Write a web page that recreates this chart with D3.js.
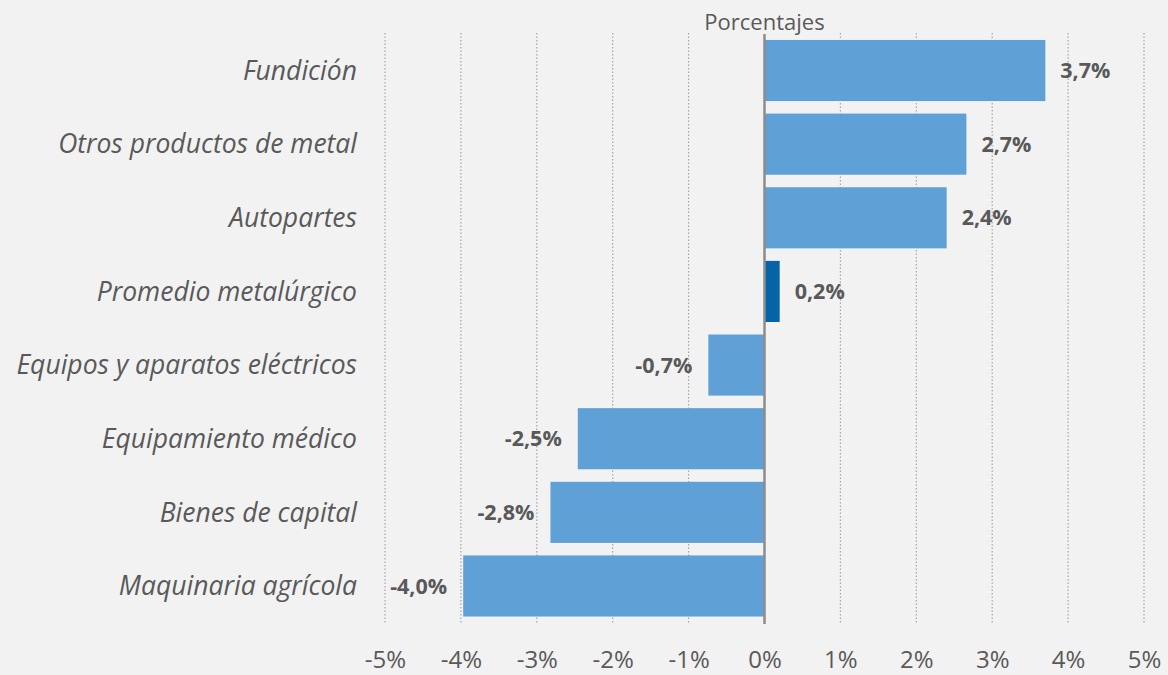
<!DOCTYPE html>
<html><head><meta charset="utf-8">
<script src="https://cdn.jsdelivr.net/npm/d3@7"></script>
<style>html,body{margin:0;padding:0;background:#f2f2f2;}svg{display:block;}</style>
</head><body>
<script>
const categories = ["Fundición","Otros productos de metal","Autopartes","Promedio metalúrgico","Equipos y aparatos eléctricos","Equipamiento médico","Bienes de capital","Maquinaria agrícola"];
const values = [3.7, 2.66, 2.4, 0.2, -0.74, -2.46, -2.82, -3.97];
const highlight = ["Promedio metalúrgico"];
const ticks = [-5,-4,-3,-2,-1,0,1,2,3,4,5];
const axisTitle = "Porcentajes";

const W = 1168, H = 675;
const svg = d3.select("body").append("svg").attr("width", W).attr("height", H);
svg.append("rect").attr("width", W).attr("height", H).attr("fill", "#f2f2f2");

const x = d3.scaleLinear().domain([-5, 5]).range([385, 1144]);
const y = d3.scaleBand().domain(categories).range([33.7, 622.8]).paddingInner(0.17).paddingOuter(0.085);

const fmt = v => d3.format(".1f")(v).replace("−", "-").replace(".", ",") + "%";
const font = "'Open Sans', 'Liberation Sans', sans-serif";

// gridlines
svg.append("g").selectAll("line").data(ticks.filter(t => t !== 0)).join("line")
  .attr("x1", d => x(d)).attr("x2", d => x(d))
  .attr("y1", 33).attr("y2", 623)
  .attr("stroke", "#a6a6a6").attr("stroke-width", 1.2).attr("stroke-dasharray", "1.5,2");

// bars
svg.append("g").selectAll("rect").data(categories).join("rect")
  .attr("x", (d, i) => x(Math.min(0, values[i])))
  .attr("width", (d, i) => Math.abs(x(values[i]) - x(0)))
  .attr("y", d => y(d))
  .attr("height", y.bandwidth())
  .attr("fill", d => highlight.includes(d) ? "#0563a6" : "#5fa1d7");

// zero line
svg.append("line").attr("x1", x(0)).attr("x2", x(0)).attr("y1", 34).attr("y2", 624)
  .attr("stroke", "#8c8c8c").attr("stroke-width", 2.5);

// value labels
svg.append("g").selectAll("text").data(categories).join("text")
  .attr("x", (d, i) => values[i] >= 0 ? x(values[i]) + 15 : x(values[i]) - 16)
  .attr("y", d => y(d) + y.bandwidth() / 2)
  .attr("dy", "0.35em")
  .attr("text-anchor", (d, i) => values[i] >= 0 ? "start" : "end")
  .attr("font-family", font).attr("font-weight", "bold").attr("font-size", 21.5)
  .attr("fill", "#595959")
  .text((d, i) => fmt(values[i]));

// category labels
svg.append("g").selectAll("text").data(categories).join("text")
  .attr("x", 357)
  .attr("y", d => y(d) + y.bandwidth() / 2)
  .attr("dy", "0.35em")
  .attr("text-anchor", "end")
  .attr("font-family", font).attr("font-style", "italic").attr("font-size", 26.5)
  .attr("fill", "#595959")
  .text(d => d);

// x axis tick labels
const ax = svg.append("g").attr("transform", "translate(0,651)")
  .call(d3.axisBottom(x).tickValues(ticks).tickSize(0).tickFormat(d => d + "%"));
ax.select(".domain").remove();
ax.selectAll("text").attr("font-family", font).attr("font-size", 24).attr("fill", "#595959").attr("dy", "0.71em").attr("y", 0);

// title
svg.append("text").attr("x", x(0)).attr("y", 30).attr("text-anchor", "middle")
  .attr("font-family", font).attr("font-size", 22).attr("fill", "#595959").text(axisTitle);
</script>
</body></html>
